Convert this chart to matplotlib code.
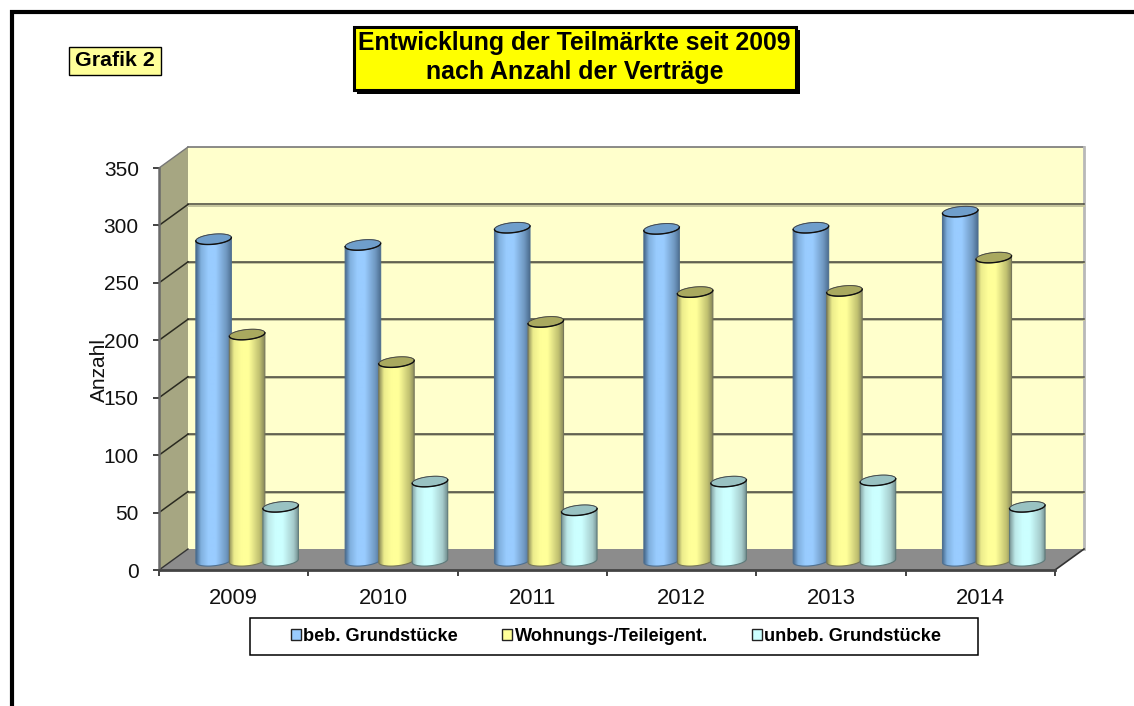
import numpy as np
import matplotlib
matplotlib.use('Agg')
import matplotlib.pyplot as plt
from matplotlib.colors import LinearSegmentedColormap
from matplotlib.patches import Polygon, Rectangle

plt.rcParams['font.family'] = ['Liberation Sans', 'DejaVu Sans']

years = ['2009', '2010', '2011', '2012', '2013', '2014']
beb = [280, 275, 290, 289, 290, 304]
wohnung = [197, 173, 208, 234, 235, 264]
unbeb = [47, 69, 44, 69, 70, 47]
series_names = ['beb. Grundstücke', 'Wohnungs-/Teileigent.', 'unbeb. Grundstücke']
y_ticks = [0, 50, 100, 150, 200, 250, 300, 350]

W, H = 1134, 706
fig = plt.figure(figsize=(W / 100, H / 100), dpi=100, facecolor='white')


def px_rect(x0, y0, x1, y1):
    return [x0 / W, 1 - y1 / H, (x1 - x0) / W, (y1 - y0) / H]


# overlay in pixel coordinates for frame and text boxes
deco = fig.add_axes([0, 0, 1, 1], zorder=0)
deco.set_xlim(0, W)
deco.set_ylim(H, 0)
deco.axis('off')
deco.plot([11.5, 11.5, W], [H, 11.5, 11.5], color='black', lw=3, solid_joinstyle='miter')
deco.add_patch(Rectangle((357, 30), 443, 64, fc='black', ec='none'))
deco.add_patch(Rectangle((354, 27), 442, 63, fc='#ffff00', ec='black', lw=2.2))
deco.text(574.5, 43, 'Entwicklung der Teilmärkte seit 2009', fontsize=17.9, fontweight='bold',
          ha='center', va='center')
deco.text(574.5, 72.5, 'nach Anzahl der Verträge', fontsize=17.9, fontweight='bold',
          ha='center', va='center')
deco.add_patch(Rectangle((69, 47), 92, 28, fc='#ffff99', ec='black', lw=1))
deco.text(115, 61, 'Grafik 2', fontsize=15.4, fontweight='bold', ha='center', va='center')
deco.add_patch(Rectangle((250, 618), 728, 37, fc='white', ec='black', lw=1.1))

# main axes = front plane of the 3d box
ax = fig.add_axes(px_rect(159, 168, 1055, 570), zorder=1)
ax.patch.set_alpha(0)
x_scale = 896 / 6
y_scale = 402 / 350
depth_x = 29 / x_scale
depth_y = 21 / y_scale
n = len(years)

ax.add_patch(Polygon([(depth_x, depth_y), (n + depth_x, depth_y), (n + depth_x, 350 + depth_y), (depth_x, 350 + depth_y)],
                     fc='#ffffcc', ec='none', clip_on=False, zorder=1))
ax.plot([depth_x, n + depth_x], [350 + depth_y, 350 + depth_y], color='#777777', lw=1.2, clip_on=False, zorder=1.1)
ax.plot([n + depth_x, n + depth_x], [350 + depth_y, depth_y], color='#b8b8b8', lw=2, clip_on=False, zorder=1.1)
ax.add_patch(Polygon([(0, 0), (depth_x, depth_y), (depth_x, 350 + depth_y), (0, 350)],
                     fc='#a6a682', ec='none', clip_on=False, zorder=1.2))
ax.add_patch(Polygon([(0, 0), (n, 0), (n + depth_x, depth_y), (depth_x, depth_y)],
                     fc='#8c8c8c', ec='none', clip_on=False, zorder=1.2))
ax.plot([n, n + depth_x], [0, depth_y], color='#333333', lw=1.2, clip_on=False, zorder=1.3)

for v in y_ticks[1:-1]:
    ax.plot([depth_x, n + depth_x], [v + depth_y - 1, v + depth_y - 1], color='#c4c49c', lw=1.4, clip_on=False, zorder=1.3)
    ax.plot([depth_x, n + depth_x], [v + depth_y, v + depth_y], color='#45453a', lw=1.1, clip_on=False, zorder=1.4)
    ax.plot([0, depth_x], [v, v + depth_y], color='#2a2a20', lw=1.1, clip_on=False, zorder=1.4)
ax.plot([0, depth_x], [350, 350 + depth_y], color='#777777', lw=1, clip_on=False, zorder=1.4)
ax.plot([0, depth_x], [0, depth_y], color='#333333', lw=1, clip_on=False, zorder=1.4)

bar_colors = [
    (['#44678a', '#80b0de', '#99ccff', '#99ccff', '#6f97c0', '#4b6c8e'], '#6f9ecb', '#50708f'),
    (['#8a8a58', '#ecec8c', '#ffff99', '#ffff99', '#c0c070', '#85855a'], '#a9a95f', '#77775a'),
    (['#7f9c9c', '#bce8e8', '#ccffff', '#ccffff', '#a6cccc', '#6f8a8a'], '#99c2c2', '#5f7a7a'),
]
grad_stops = [0, 0.14, 0.35, 0.55, 0.85, 1]
bar_w = 35.5 / x_scale
bar_step = 0.2245
group_mid = 0.59
base = 8.0
ry = 5 / y_scale
tilt = 1.7 / y_scale
rx = bar_w / 2
gradient = np.linspace(0, 1, 256)[None, :]

for s, values in enumerate([beb, wohnung, unbeb]):
    stops, cap_col, edge_col = bar_colors[s]
    cmap = LinearSegmentedColormap.from_list('cyl', list(zip(grad_stops, stops)))
    for c, v in enumerate(values):
        cx = c + group_mid + (s - 1) * bar_step
        top = v + base
        t_low = np.linspace(np.pi, 2 * np.pi, 40)
        t_up = np.linspace(0, np.pi, 40)
        xs = np.r_[cx + rx * np.cos(t_low), cx + rx * np.cos(t_up)]
        ys = np.r_[base + ry * np.sin(t_low) + tilt * np.cos(t_low), top + ry * np.sin(t_up) + tilt * np.cos(t_up)]
        zo = 2 + s + c * 0.01
        body = Polygon(np.c_[xs, ys], fc='none', ec=edge_col, lw=0.8, zorder=zo + 0.002)
        ax.add_patch(body)
        im = ax.imshow(gradient, extent=(cx - rx, cx + rx, 0, top + ry + 3), cmap=cmap, aspect='auto',
                       zorder=zo, interpolation='bilinear')
        im.set_clip_path(body)
        t = np.linspace(0, 2 * np.pi, 80)
        ax.add_patch(Polygon(np.c_[cx + rx * np.cos(t), top + ry * np.sin(t) + tilt * np.cos(t)],
                             fc=cap_col, ec='#444444', lw=0.6, zorder=zo + 0.003))
        t = np.linspace(np.pi, 2 * np.pi, 40)
        ax.plot(cx + rx * np.cos(t), top + ry * np.sin(t) + tilt * np.cos(t), color='#101010', lw=1.0, zorder=zo + 0.004)

ax.set_xlim(0, n)
ax.set_ylim(0, 350)
ax.set_yticks(y_ticks)
ax.tick_params(axis='y', labelsize=15, length=4.5, width=1.2, color='#222222', pad=10, labelcolor='#111111')
ax.set_xticks(range(n + 1))
ax.set_xticklabels([])
ax.set_xticks(np.arange(n) + 0.5, labels=years, minor=True)
ax.tick_params(axis='x', which='major', length=4.5, width=1.2, color='#222222')
ax.tick_params(axis='x', which='minor', length=0, labelsize=15.8, pad=13, labelcolor='#111111')
for side in ['top', 'right']:
    ax.spines[side].set_visible(False)
ax.spines['left'].set_color('#6a6a6a')
ax.spines['left'].set_linewidth(1.8)
ax.spines['bottom'].set_color('#444444')
ax.spines['bottom'].set_linewidth(2)
ax.set_zorder(1)
deco.text(99.5, 370, 'Anzahl', rotation=90, fontsize=15, ha='center', va='center', color='#111111')

# legend
handles = [Rectangle((0, 0), 1, 1, fc=col, ec='#222222', lw=1) for col in ['#99ccff', '#ffff99', '#ccffff']]
leg = fig.legend(handles, series_names, loc='center', bbox_to_anchor=(616 / W, 1 - 636.5 / H), ncol=3,
                 frameon=False, handlelength=0.55, handleheight=0.6,
                 handletextpad=0.15, columnspacing=2.4, borderpad=0, borderaxespad=0,
                 prop={'size': 13.1, 'weight': 'bold'})

fig.savefig('out.png', dpi=100)
